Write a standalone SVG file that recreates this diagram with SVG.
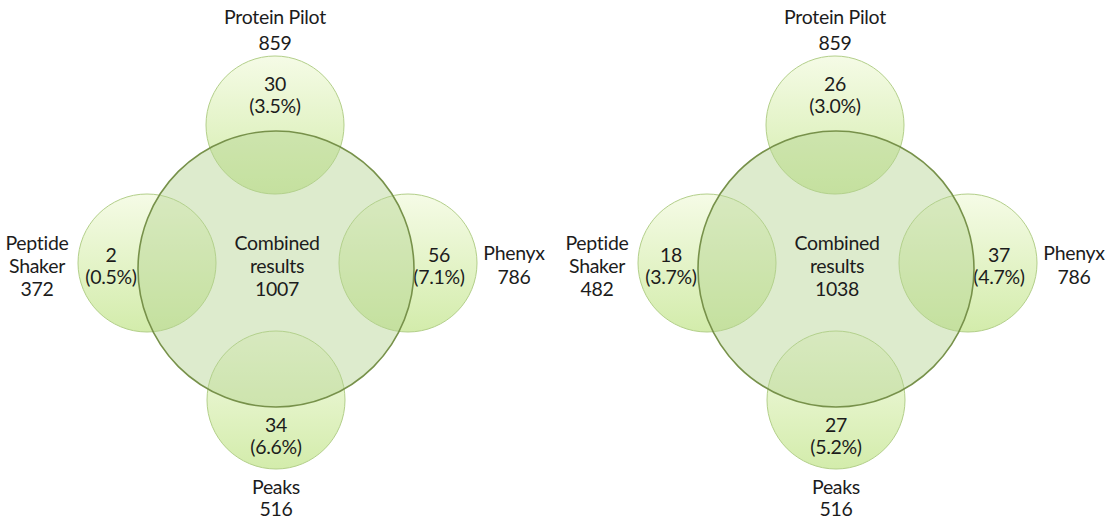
<svg xmlns="http://www.w3.org/2000/svg" width="1108" height="519" viewBox="0 0 1108 519">
<defs>
<linearGradient id="sg" x1="0" y1="0" x2="0" y2="1">
<stop offset="0" stop-color="#f5fbe6"/>
<stop offset="1" stop-color="#d3ecab"/>
</linearGradient>
<style>
.s{fill:url(#sg);stroke:#b3cf8a;stroke-width:1}
.b{fill:#b3d391;fill-opacity:0.45;stroke:#77914a;stroke-width:1.6}
text{font-family:Lato,"Liberation Sans",sans-serif;font-size:19.5px;letter-spacing:-0.3px;fill:#1c1c1c;text-anchor:middle}
</style>
</defs>
<rect width="1108" height="519" fill="#ffffff"/>
<g id="left">
<g id="L-pilot"><circle class="s" cx="275" cy="125" r="69"/><text x="275" y="24">Protein Pilot</text><text x="275" y="50">859</text><text x="275" y="91">30</text><text x="275" y="113">(3.5%)</text></g>
<g id="L-shaker"><circle class="s" cx="147" cy="263" r="69"/><text x="37" y="250">Peptide</text><text x="37" y="273">Shaker</text><text x="37" y="296">372</text><text x="111" y="262">2</text><text x="111" y="284">(0.5%)</text></g>
<g id="L-phenyx"><circle class="s" cx="408" cy="263" r="69"/><text x="514" y="260">Phenyx</text><text x="514" y="284">786</text><text x="439" y="262">56</text><text x="439" y="284">(7.1%)</text></g>
<g id="L-peaks"><circle class="s" cx="276" cy="400" r="69"/><text x="276" y="432">34</text><text x="276" y="454">(6.6%)</text><text x="276" y="494">Peaks</text><text x="276" y="516">516</text></g>
<g id="L-combined"><circle class="b" cx="276" cy="269" r="138"/><text x="277" y="250">Combined</text><text x="277" y="273">results</text><text x="277" y="296">1007</text></g>
</g>
<g id="right">
<g id="R-pilot"><circle class="s" cx="835" cy="125" r="69"/><text x="835" y="24">Protein Pilot</text><text x="835" y="50">859</text><text x="835" y="91">26</text><text x="835" y="113">(3.0%)</text></g>
<g id="R-shaker"><circle class="s" cx="707" cy="263" r="69"/><text x="597" y="250">Peptide</text><text x="597" y="273">Shaker</text><text x="597" y="296">482</text><text x="671" y="262">18</text><text x="671" y="284">(3.7%)</text></g>
<g id="R-phenyx"><circle class="s" cx="968" cy="263" r="69"/><text x="1074" y="260">Phenyx</text><text x="1074" y="284">786</text><text x="999" y="262">37</text><text x="999" y="284">(4.7%)</text></g>
<g id="R-peaks"><circle class="s" cx="836" cy="400" r="69"/><text x="836" y="432">27</text><text x="836" y="454">(5.2%)</text><text x="836" y="494">Peaks</text><text x="836" y="516">516</text></g>
<g id="R-combined"><circle class="b" cx="836" cy="269" r="138"/><text x="837" y="250">Combined</text><text x="837" y="273">results</text><text x="837" y="296">1038</text></g>
</g>
</svg>
